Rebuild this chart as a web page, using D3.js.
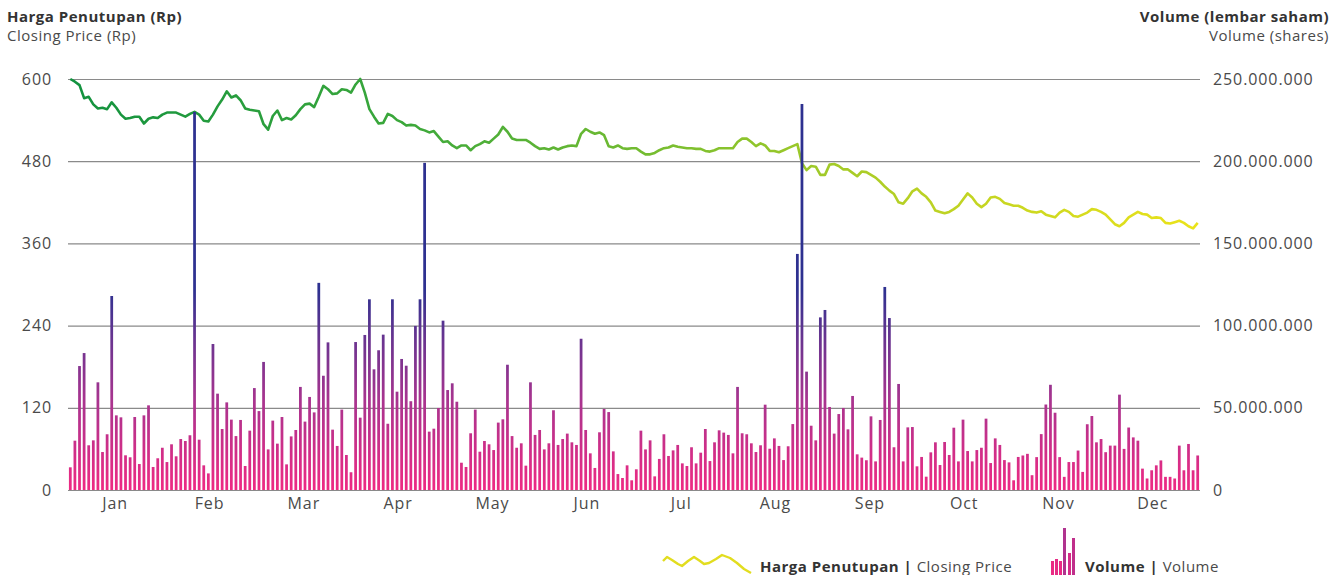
<!DOCTYPE html>
<html><head><meta charset="utf-8">
<script src="https://cdn.jsdelivr.net/npm/d3@7/dist/d3.min.js"></script>
<style>
html,body{margin:0;padding:0;background:#fff;}
svg{display:block;font-family:"Open Sans","Lato",sans-serif;}
</style></head>
<body><svg id="c" width="1343" height="575"></svg>
<script>
const months = ["Jan","Feb","Mar","Apr","May","Jun","Jul","Aug","Sep","Oct","Nov","Dec"];
const priceTicks = [0,120,240,360,480,600];
const volumeTicks = [0,50e6,100e6,150e6,200e6,250e6];
// closing price per trading day (Rp)
const closePrice = [
600,596,591,572,574,563,557,558,556,566,558,548,542,543,545,545,535,542,544,543,
548,551,551,551,548,545,549,552,548,539,538,548,560,570,582,573,576,569,557,555,
554,553,534,526,546,554,540,543,541,547,556,563,564,559,574,590,585,578,579,585,
584,580,592,600,580,556,545,535,536,549,546,540,537,532,533,532,527,525,522,524,
516,508,509,503,499,503,503,496,502,505,509,507,513,519,530,523,513,511,511,511,
507,502,498,499,497,500,497,500,502,503,502,520,527,523,520,522,518,502,500,503,
499,498,499,499,494,490,490,492,496,499,500,503,501,500,499,499,498,498,495,494,
496,499,499,499,499,508,513,513,508,502,506,503,495,495,493,496,499,502,505,477,
467,473,472,460,460,475,476,473,468,468,463,458,465,464,460,456,450,443,437,432,
420,418,426,436,440,433,428,420,408,406,404,406,410,415,424,433,427,418,413,418,
427,428,425,419,417,415,415,412,408,406,405,407,402,400,398,405,409,406,400,399,
402,405,410,409,406,402,395,388,385,390,398,402,406,403,402,397,398,397,390,389,
391,393,390,385,382,390];
// trading volume per day (millions of shares)
const volumeM = [
13.8,30,75.4,83.3,27.2,30.2,65.5,23.1,33.9,118,45.4,44.2,21.1,19.9,44.4,15.8,45.4,51.5,14,19.3,
25.7,17,27.8,20.5,31,29.8,33.3,230,30.6,15,10.1,88.8,58.6,37.1,53.3,42.8,32.8,42.6,14.6,36.1,
62,48,77.9,24.7,42.2,28.2,44.4,15.6,32.6,36.5,62.7,41.6,56.6,47.2,126,69.5,89.8,36.7,26.8,48.9,
21.3,10.8,90,44,94.3,116,73.4,85,94.5,40.3,116,59.8,79.7,75.6,54,99.8,116,199,35.5,37.3,
49.9,103,60.8,64.9,53.7,16.6,14,34.5,48.9,23.3,29.8,27.8,24.3,41,43,76.2,32.8,25.7,28.4,14.8,
65.5,33.5,36.5,24.7,28.4,48.5,27.4,31,34.3,29,27.4,92,36.5,22.3,13.4,35.1,49.3,47.4,23.5,9.7,
7.3,15,5.9,12.6,36.1,24.7,30.2,8.3,18.9,33.9,20.7,24.1,27.4,16.2,14.6,26,16.2,22.7,37.1,17.6,
29,36.3,34.9,33.5,22.3,62.7,34.5,33.9,28.4,23.1,27.2,51.9,25.1,31.4,26.8,18.2,26.6,40.1,143.6,234.8,
72,39.1,30.2,105,109.5,50.5,34.3,46.2,49.9,36.9,57.2,21.7,19.7,18.1,44.8,17.4,42.6,123.5,104.6,26,
64.5,17.4,38.1,38.3,14.4,20.1,8.1,22.9,29,15.2,29.2,21.3,37.9,17.4,42.8,23.7,17.4,24.3,25.7,43.4,
16.4,31.4,27.4,18.2,16.8,5.9,20.1,21,22,9,20,34,52,64,47,20,8,17,17,24,11,40,45,29,31,23,
27,27,58,25,38,32,30,13,7,12,15,18,8,8,7,27,12,28,12,21];

const mLeft = 68, mRight = 1200, mTop = 79, mBottom = 490;
const svg = d3.select("#c");
const defs = svg.append("defs");

const N = volumeM.length;
const x = d3.scaleBand().domain(d3.range(N)).range([mLeft, mRight]).paddingInner(0.4).paddingOuter(0.2);
const xm = d3.scaleBand().domain(months).range([mLeft, mRight]);
const yP = d3.scaleLinear().domain([0, 600]).range([mBottom, mTop]);
const yV = d3.scaleLinear().domain([0, 250e6]).range([mBottom, mTop]);

const loc = d3.formatLocale({decimal: ",", thousands: ".", grouping: [3], currency: ["", ""]});
const fmtV = loc.format(",d");

// gradients
const bg = defs.append("linearGradient").attr("id", "barGrad")
  .attr("gradientUnits", "userSpaceOnUse").attr("x1", 0).attr("x2", 0)
  .attr("y1", mBottom).attr("y2", 290);
[[0, "#ee2a83"], [0.45, "#a8348f"], [0.75, "#6a3490"], [1, "#2e3190"]].forEach(s =>
  bg.append("stop").attr("offset", s[0]).attr("stop-color", s[1]));
const lg = defs.append("linearGradient").attr("id", "lineGrad")
  .attr("gradientUnits", "userSpaceOnUse").attr("x1", mLeft).attr("x2", mRight).attr("y1", 0).attr("y2", 0);
[[0, "#12923f"], [0.3, "#3ca83b"], [0.55, "#7fc02f"], [0.75, "#b9d124"], [1, "#ebe31a"]].forEach(s =>
  lg.append("stop").attr("offset", s[0]).attr("stop-color", s[1]));

// grid
svg.append("g").selectAll("line").data(priceTicks).join("line")
  .attr("x1", mLeft).attr("x2", mRight)
  .attr("y1", d => yP(d) + 0.5).attr("y2", d => yP(d) + 0.5)
  .attr("stroke", "#8a8a8a").attr("stroke-width", 1.2);

// axes
const gl = svg.append("g").attr("transform", `translate(${mLeft},0)`)
  .call(d3.axisLeft(yP).tickValues(priceTicks).tickSize(0).tickPadding(16));
const gr = svg.append("g").attr("transform", `translate(${mRight},0)`)
  .call(d3.axisRight(yV).tickValues(volumeTicks).tickSize(0).tickPadding(13).tickFormat(fmtV));
const gb = svg.append("g").attr("transform", `translate(0,${mBottom})`)
  .call(d3.axisBottom(xm).tickSize(0).tickPadding(8));
[gl, gr, gb].forEach(g => {
  g.select(".domain").remove();
  g.selectAll("text").attr("font-size", 16).attr("fill", "#4a4a4a")
    .attr("font-family", "'Open Sans', sans-serif").attr("letter-spacing", 0.9);
});

// price line
const line = d3.line().x((d, i) => x(i) + x.bandwidth() / 2).y(d => yP(d)).curve(d3.curveLinear);
svg.append("path").datum(closePrice).attr("d", line)
  .attr("fill", "none").attr("stroke", "url(#lineGrad)").attr("stroke-width", 2.6)
  .attr("stroke-linejoin", "round");

// volume bars
svg.append("g").selectAll("rect").data(volumeM).join("rect")
  .attr("x", (d, i) => x(i)).attr("width", x.bandwidth())
  .attr("y", d => yV(d * 1e6)).attr("height", d => mBottom - yV(d * 1e6))
  .attr("fill", "url(#barGrad)");

// titles
const t = svg.append("g").attr("fill", "#333").attr("font-size", 15).attr("letter-spacing", 0.5);
t.append("text").attr("x", 7).attr("y", 22).attr("font-weight", 700).text("Harga Penutupan (Rp)");
t.append("text").attr("x", 7).attr("y", 41).attr("fill", "#4a4a4a").text("Closing Price (Rp)");
t.append("text").attr("x", 1329).attr("y", 22).attr("text-anchor", "end").attr("font-weight", 700).text("Volume (lembar saham)");
t.append("text").attr("x", 1329).attr("y", 41).attr("text-anchor", "end").attr("fill", "#4a4a4a").text("Volume (shares)");

// legend
const lgd = svg.append("g");
const iconPts = [[663,561],[667,557],[672,560],[678,564],[682,566],[688,561],[694,557],[700,561],[704,564],[709,563],[716,559],[722,555],[730,558],[737,563],[744,569],[751,573]];
lgd.append("path").attr("d", d3.line()(iconPts)).attr("fill", "none").attr("stroke", "#e2dd1f").attr("stroke-width", 2.4).attr("stroke-linejoin", "round");
const lt1 = lgd.append("text").attr("x", 760).attr("y", 572).attr("font-size", 15).attr("letter-spacing", 0.5).attr("fill", "#333");
lt1.append("tspan").attr("font-weight", 700).text("Harga Penutupan | ");
lt1.append("tspan").attr("fill", "#4a4a4a").text("Closing Price");
const iconBars = [[1051, 14, "#ea2a84"], [1055, 16, "#e62b85"], [1059, 14, "#ea2a84"], [1063, 47, "#b0338f"], [1068, 22, "#d62c88"], [1072, 37, "#c02f8b"]];
lgd.selectAll("rect.ib").data(iconBars).join("rect").attr("class", "ib")
  .attr("x", d => d[0]).attr("y", d => 575 - d[1]).attr("width", 3).attr("height", d => d[1]).attr("fill", d => d[2]);
const lt2 = lgd.append("text").attr("x", 1085).attr("y", 572).attr("font-size", 15).attr("letter-spacing", 0.5).attr("fill", "#333");
lt2.append("tspan").attr("font-weight", 700).text("Volume | ");
lt2.append("tspan").attr("fill", "#4a4a4a").text("Volume");
</script></body></html>
